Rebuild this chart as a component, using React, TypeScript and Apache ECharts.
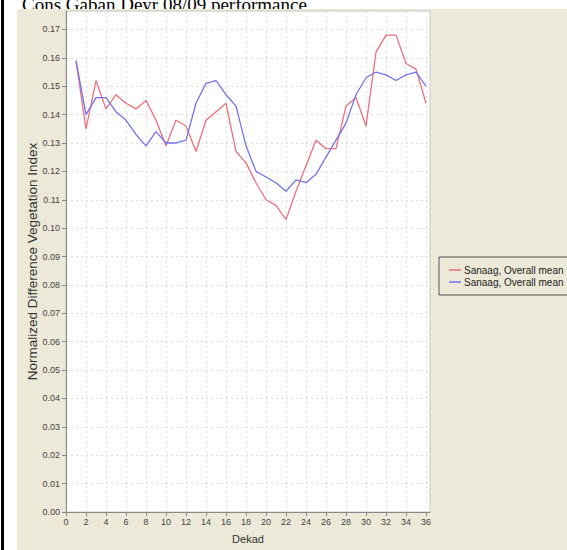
import React, { useEffect, useRef } from "react";
import * as echarts from "echarts";

const TITLE = "Cons Gaban Deyr 08/09 performance";
const X_NAME = "Dekad";
const Y_NAME = "Normalized Difference Vegetation Index";
const SERIES_LABEL = "Sanaag, Overall mean";

const dekads = [1, 2, 3, 4, 5, 6, 7, 8, 9, 10, 11, 12, 13, 14, 15, 16, 17, 18, 19, 20, 21, 22, 23, 24, 25, 26, 27, 28, 29, 30, 31, 32, 33, 34, 35, 36];

const redSeries = [0.159, 0.135, 0.152, 0.142, 0.147, 0.144, 0.142, 0.145, 0.138, 0.129, 0.138, 0.136, 0.127, 0.138, 0.141, 0.144, 0.127, 0.123, 0.116, 0.110, 0.108, 0.103, 0.113, 0.122, 0.131, 0.128, 0.128, 0.143, 0.146, 0.136, 0.162, 0.168, 0.168, 0.158, 0.156, 0.144];

const blueSeries = [0.159, 0.140, 0.146, 0.146, 0.141, 0.138, 0.133, 0.129, 0.134, 0.130, 0.130, 0.131, 0.144, 0.151, 0.152, 0.147, 0.143, 0.129, 0.120, 0.118, 0.116, 0.113, 0.117, 0.116, 0.119, 0.125, 0.131, 0.137, 0.147, 0.153, 0.155, 0.154, 0.152, 0.154, 0.155, 0.150];

const BEIGE = "#ECE9D8";
const RED = "#EF6F7A";
const BLUE = "#7272EE";
const FONT = '"Liberation Sans", Arial, sans-serif';

export default function App() {
  const ref = useRef<HTMLDivElement>(null);
  useEffect(() => {
    if (!ref.current) return;
    const chart = echarts.init(ref.current, null, { renderer: "svg" });
    const toPairs = (vals: number[]) => dekads.map((d, i) => [d, vals[i]]);
    chart.setOption({
      animation: false,
      backgroundColor: "#ffffff",
      textStyle: { fontFamily: FONT },
      graphic: [
        {
          type: "text",
          z: -120,
          x: 22,
          y: 14,
          style: {
            text: TITLE,
            font: '19px "Liberation Serif", "Times New Roman", serif',
            fill: "#000",
            verticalAlign: "bottom",
          },
        },
        { type: "rect", z: -100, shape: { x: 17, y: 9, width: 560, height: 550 }, style: { fill: BEIGE } },
        { type: "rect", z: -100, shape: { x: 1, y: 0, width: 3, height: 550 }, style: { fill: "#000" } },
      ],
      grid: {
        left: 66,
        top: 11,
        right: 137,
        bottom: 38,
        show: true,
        backgroundColor: "#ffffff",
        borderColor: "#c8c8c8",
        borderWidth: 1,
      },
      legend: {
        orient: "vertical",
        left: 439,
        top: 257,
        padding: [7, 5, 7, 10],
        itemGap: 0,
        itemWidth: 12,
        itemHeight: 1.5,
        icon: "rect",
        borderColor: "#555",
        borderWidth: 1,
        backgroundColor: BEIGE,
        formatter: () => SERIES_LABEL,
        textStyle: { fontSize: 10, lineHeight: 12, color: "#222", fontFamily: FONT, padding: [0, 0, 0, -2] },
        data: ["s1", "s2"],
      },
      xAxis: {
        type: "value",
        min: 0,
        max: 36.4,
        interval: 2,
        name: X_NAME,
        nameLocation: "middle",
        nameGap: 21,
        nameMoveOverlap: false,
        nameTextStyle: { fontSize: 11, color: "#333", fontFamily: FONT },
        axisLine: { show: true, lineStyle: { color: "#888" } },
        axisTick: { show: true, length: 4, lineStyle: { color: "#888" } },
        axisLabel: {
          fontSize: 9,
          color: "#444",
          margin: 5,
          showMaxLabel: false,
          formatter: (v: number) => String(Math.round(v)),
        },
        splitLine: { show: true, lineStyle: { color: "#dcdcdc", type: [2, 3], width: 1 } },
      },
      yAxis: {
        type: "value",
        min: 0,
        max: 0.1765,
        interval: 0.01,
        name: Y_NAME,
        nameLocation: "middle",
        nameGap: 27,
        nameMoveOverlap: false,
        nameTextStyle: { fontSize: 13.5, color: "#333", fontFamily: FONT },
        axisLine: { show: true, lineStyle: { color: "#888" } },
        axisTick: { show: true, length: 4, lineStyle: { color: "#888" } },
        axisLabel: {
          fontSize: 9,
          color: "#444",
          margin: 6,
          showMaxLabel: false,
          formatter: (v: number) => v.toFixed(2),
        },
        splitLine: { show: true, lineStyle: { color: "#dcdcdc", type: [2, 3], width: 1 } },
      },
      series: [
        {
          name: "s1",
          type: "line",
          data: toPairs(redSeries),
          symbol: "none",
          lineStyle: { color: RED, width: 1.3 },
          itemStyle: { color: RED },
        },
        {
          name: "s2",
          type: "line",
          data: toPairs(blueSeries),
          symbol: "none",
          lineStyle: { color: BLUE, width: 1.3 },
          itemStyle: { color: BLUE },
        },
      ],
    });
    return () => chart.dispose();
  }, []);
  return (
    <div
      ref={ref}
      style={{ position: "absolute", left: 0, top: 0, width: 567, height: 550 }}
    />
  );
}
